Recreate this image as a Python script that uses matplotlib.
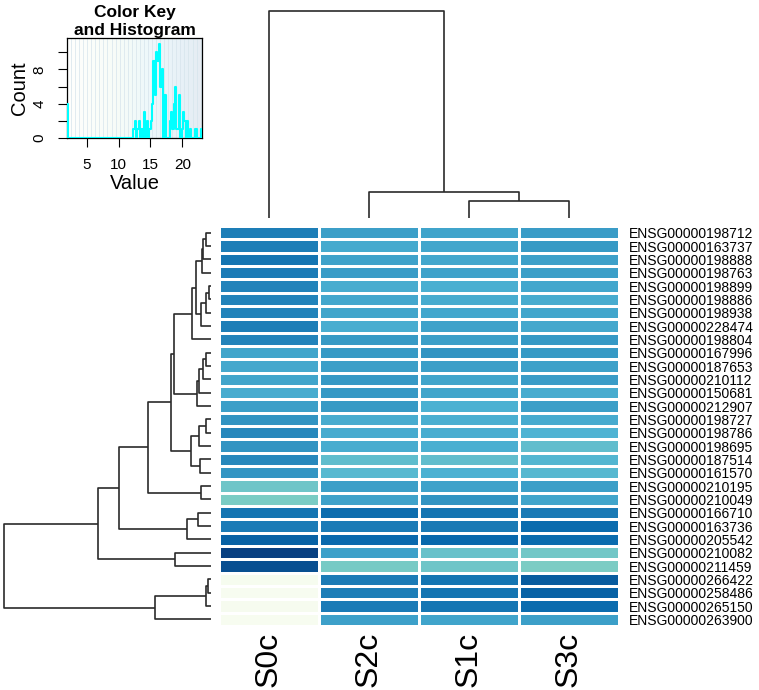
import numpy as np
import matplotlib
matplotlib.use('Agg')
import matplotlib.pyplot as plt
from matplotlib.colors import LinearSegmentedColormap

plt.rcParams['font.family'] = ['Liberation Sans', 'DejaVu Sans']

W, H = 759, 690

genes = [
    'ENSG00000198712', 'ENSG00000163737', 'ENSG00000198888', 'ENSG00000198763',
    'ENSG00000198899', 'ENSG00000198886', 'ENSG00000198938', 'ENSG00000228474',
    'ENSG00000198804', 'ENSG00000167996', 'ENSG00000187653', 'ENSG00000210112',
    'ENSG00000150681', 'ENSG00000212907', 'ENSG00000198727', 'ENSG00000198786',
    'ENSG00000198695', 'ENSG00000187514', 'ENSG00000161570', 'ENSG00000210195',
    'ENSG00000210049', 'ENSG00000166710', 'ENSG00000163736', 'ENSG00000205542',
    'ENSG00000210082', 'ENSG00000211459', 'ENSG00000266422', 'ENSG00000258486',
    'ENSG00000265150', 'ENSG00000263900',
]
samples = ['S0c', 'S2c', 'S1c', 'S3c']

# values per sample column, rows in display order
s0c = [18.84, 18.80, 19.50, 19.00, 18.40, 18.45, 18.38, 18.80, 18.42, 16.12,
       15.85, 16.08, 15.60, 16.50, 17.30, 18.05, 17.25, 18.10, 17.22, 13.20,
       12.53, 19.50, 19.02, 20.84, 23.10, 22.10, 2.00, 1.90, 2.10, 1.95]
s2c = [16.50, 15.76, 16.30, 16.70, 15.60, 15.92, 16.10, 15.55, 16.88, 16.86,
       16.50, 16.90, 16.92, 16.87, 15.58, 15.72, 15.57, 14.10, 14.50, 16.50,
       16.30, 20.10, 19.00, 20.35, 16.45, 12.70, 19.00, 18.85, 19.02, 16.40]
s1c = [16.16, 16.00, 15.90, 16.26, 15.42, 15.62, 15.95, 16.30, 16.53, 17.27,
       16.55, 16.14, 16.10, 15.30, 15.45, 15.50, 15.40, 14.02, 15.25, 16.30,
       17.28, 19.52, 19.05, 20.38, 13.60, 13.20, 19.50, 19.50, 19.45, 16.15]
s3c = [16.66, 16.85, 16.40, 16.53, 15.90, 15.58, 16.05, 15.85, 16.90, 16.84,
       16.32, 16.70, 15.63, 16.48, 15.70, 15.10, 14.05, 14.84, 14.60, 16.52,
       16.10, 19.10, 20.15, 20.15, 13.05, 12.50, 21.20, 20.84, 20.20, 16.50]

# hierarchical merges: (left id, right id, height); ids >= n are earlier merges
row_merges = [
    (0, 1, 5.3), (30, 2, 8), (31, 3, 9.5),
    (4, 5, 1.7), (33, 6, 5), (34, 7, 10),
    (32, 35, 15), (36, 8, 19.3),
    (9, 10, 5.3), (38, 11, 7.7), (39, 12, 12), (40, 13, 14.3),
    (37, 41, 36.7),
    (14, 15, 5.5), (43, 16, 12), (17, 18, 11), (44, 45, 20),
    (42, 46, 40.5),
    (19, 20, 10), (47, 48, 62.7),
    (21, 22, 13.3), (50, 23, 24.3), (49, 51, 92),
    (24, 25, 36), (52, 53, 113.3),
    (26, 27, 3), (55, 28, 5), (56, 29, 56),
    (54, 57, 207),
]
col_merges = [(2, 3, 17), (1, 4, 26), (0, 5, 207)]

gnbu = ['#f7fcf0', '#e0f3db', '#ccebc5', '#a8ddb5', '#7bccc4',
        '#4eb3d3', '#2b8cbe', '#0868ac', '#084081']
cmap = LinearSegmentedColormap.from_list('gnbu', gnbu)
n_breaks = 101

LINE = '#2b2b2b'


def draw_dendrogram(ax, merges, n, orient):
    pos = {i: i + 0.5 for i in range(n)}
    hgt = {i: 0.0 for i in range(n)}
    for k, (a, b, h) in enumerate(merges):
        p = [pos[a], pos[a], pos[b], pos[b]]
        q = [hgt[a], h, h, hgt[b]]
        if orient == 'top':
            ax.plot(p, q, color=LINE, lw=1.2, solid_capstyle='butt')
        else:
            ax.plot(q, p, color=LINE, lw=1.2, solid_capstyle='butt')
        pos[n + k] = (pos[a] + pos[b]) / 2
        hgt[n + k] = h


def fig_axes(fig, x0, y0, x1, y1):
    # pixel box (top-left origin) -> axes
    return fig.add_axes([x0 / W, 1 - y1 / H, (x1 - x0) / W, (y1 - y0) / H])


def main():
    data = np.column_stack([s0c, s2c, s1c, s3c])
    nrow, ncol = data.shape
    vmin, vmax = data.min(), data.max()

    fig = plt.figure(figsize=(W / 100, H / 100), dpi=100)

    # heatmap
    ax = fig_axes(fig, 219, 226, 619, 626)
    ax.pcolormesh(np.arange(ncol + 1), np.arange(nrow + 1), data, cmap=cmap,
                  vmin=vmin, vmax=vmax, edgecolors='white', linewidth=1.0)
    ax.set_xlim(0, ncol)
    ax.set_ylim(nrow, 0)
    for s in ax.spines.values():
        s.set_visible(False)
    ax.set_xticks(np.arange(ncol) + 0.5)
    ax.set_xticklabels(samples, rotation=90, fontsize=23)
    ax.set_yticks(np.arange(nrow) + 0.5)
    ax.set_yticklabels(genes, fontsize=10)
    ax.yaxis.tick_right()
    ax.tick_params(axis='both', length=0)
    ax.tick_params(axis='y', pad=7)
    ax.tick_params(axis='x', pad=4)

    # row dendrogram
    rd = fig_axes(fig, 0, 226, 215, 626)
    draw_dendrogram(rd, row_merges, nrow, 'left')
    rd.set_xlim(211, -4)
    rd.set_ylim(nrow, 0)
    rd.axis('off')

    # column dendrogram
    cd = fig_axes(fig, 219, 0, 619, 222)
    draw_dendrogram(cd, col_merges, ncol, 'top')
    cd.set_xlim(0, ncol)
    cd.set_ylim(-4, 218)
    cd.axis('off')

    # color key with histogram
    kx = fig_axes(fig, 67, 38, 202, 138)
    bins = np.linspace(vmin, vmax, n_breaks)
    counts, _ = np.histogram(data.ravel(), bins)
    top = counts.max() * 1.06
    kx.imshow(np.linspace(vmin, vmax, 256)[None, :], cmap=cmap, aspect='auto',
              extent=[vmin, vmax, 0, top], alpha=0.1, zorder=0)
    kx.vlines(bins[::3], 0, top, color='#d6e4ec', lw=0.5, zorder=1)
    kx.step(bins, np.r_[counts, counts[-1]], where='post', color='cyan',
            lw=1.5, zorder=3)
    kx.set_xlim(vmin, vmax)
    kx.set_ylim(0, top)
    kx.set_xticks([5, 10, 15, 20])
    yt = np.arange(0, top, 2)
    kx.set_yticks(yt)
    kx.set_yticklabels([f'{v:.0f}' if v % 4 == 0 else '' for v in yt],
                       rotation=90, va='center')
    kx.tick_params(axis='both', labelsize=11, length=6.5, width=0.8)
    kx.tick_params(axis='x', pad=8)
    kx.tick_params(axis='y', pad=8)
    for s in kx.spines.values():
        s.set_linewidth(0.9)

    fig.text(134.5 / W, 1 - 12 / H, 'Color Key', ha='center', va='center',
             fontsize=12.5, fontweight='bold')
    fig.text(134.5 / W, 1 - 31 / H, 'and Histogram', ha='center', va='center',
             fontsize=12.5, fontweight='bold')
    fig.text(20 / W, 1 - 88 / H, 'Count', ha='center', va='center',
             rotation=90, fontsize=14.5)
    fig.text(134.5 / W, 1 - 174 / H, 'Value', ha='center', va='top',
             fontsize=14.5)

    fig.savefig('out.png', dpi=100)
    plt.close(fig)


if __name__ == '__main__':
    main()
